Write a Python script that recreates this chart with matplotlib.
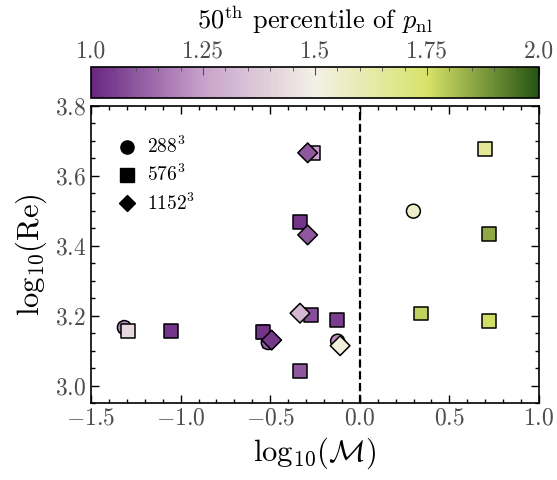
import numpy as np
import matplotlib
matplotlib.use("Agg")
import matplotlib.pyplot as plt
from matplotlib.colors import LinearSegmentedColormap, Normalize
from matplotlib.ticker import MultipleLocator
from matplotlib.lines import Line2D

plt.rcParams["font.family"] = "serif"
plt.rcParams["font.serif"] = ["cmr10"]
plt.rcParams["mathtext.fontset"] = "cm"
plt.rcParams["axes.formatter.use_mathtext"] = True

# log10(Mach), log10(Re), 50th percentile of p_nl, error on log10(Re)
mach_288 = [-1.314, -0.511, -0.124, 0.299]
re_288 = [3.166, 3.123, 3.127, 3.499]
pnl_288 = [1.20, 1.12, 1.20, 1.56]
err_288 = [0.012, 0.015, 0.010, 0.006]

mach_576 = [-1.294, -1.055, -0.538, -0.274, -0.334, -0.129, -0.334, -0.260, 0.340, 0.721, 0.723, 0.697]
re_576 = [3.155, 3.156, 3.152, 3.202, 3.042, 3.188, 3.469, 3.665, 3.206, 3.185, 3.434, 3.677]
pnl_576 = [1.42, 1.03, 1.03, 1.08, 1.10, 1.05, 1.03, 1.25, 1.78, 1.76, 1.85, 1.66]
err_576 = [0.008, 0.010, 0.020, 0.008, 0.010, 0.012, 0.008, 0.010, 0.010, 0.015, 0.015, 0.012]

mach_1152 = [-0.492, -0.334, -0.291, -0.291, -0.110]
re_1152 = [3.130, 3.207, 3.431, 3.666, 3.114]
pnl_1152 = [1.04, 1.32, 1.10, 1.10, 1.52]
err_1152 = [0.010, 0.008, 0.008, 0.008, 0.008]

res_labels = [r"$288^3$", r"$576^3$", r"$1152^3$"]

cmap = LinearSegmentedColormap.from_list(
    "pnl", [(0.0, "#682681"), (0.25, "#c8a2cb"), (0.5, "#f3f1e7"),
            (0.75, "#d8e36a"), (1.0, "#265413")])
norm = Normalize(vmin=1.0, vmax=2.0)

fig = plt.figure(figsize=(5.57, 4.8), dpi=100)
ax = fig.add_axes([0.1634, 0.1604, 0.8043, 0.6188])
cax = fig.add_axes([0.1634, 0.7958, 0.8043, 0.0646])

groups = [
    (mach_288, re_288, pnl_288, err_288, "o"),
    (mach_576, re_576, pnl_576, err_576, "s"),
    (mach_1152, re_1152, pnl_1152, err_1152, "D"),
]
for z, (mx, rx, px, ex, mk) in enumerate(groups):
    for xi, yi, pi, ei in zip(mx, rx, px, ex):
        c = cmap(norm(pi))
        ax.errorbar(xi, yi, yerr=ei, fmt="none", ecolor=c, elinewidth=1.2,
                    capsize=4, capthick=1.2, zorder=2 + 2 * z)
    ax.scatter(mx, rx, c=px, cmap=cmap, norm=norm, marker=mk, s=100,
               edgecolors="black", linewidths=1.1, zorder=3 + 2 * z)

ax.axvline(0.0, color="black", ls="--", lw=1.6, zorder=1)

ax.set_xlim(-1.5, 1.0)
ax.set_ylim(2.95, 3.8)
ax.xaxis.set_major_locator(MultipleLocator(0.5))
ax.xaxis.set_minor_locator(MultipleLocator(0.1))
ax.yaxis.set_major_locator(MultipleLocator(0.2))
ax.yaxis.set_minor_locator(MultipleLocator(0.05))
ax.tick_params(which="both", direction="in", top=True, right=True,
               labelsize=17, labelcolor="0.3", width=1.0)
ax.tick_params(which="major", length=5.5)
ax.tick_params(which="minor", length=2.7)
for sp in ax.spines.values():
    sp.set_linewidth(1.2)

ax.set_xlabel(r"$\mathrm{log}_{10}(\mathcal{M})$", fontsize=22)
ax.set_ylabel(r"$\mathrm{log}_{10}(\mathrm{Re})$", fontsize=22)

handles = [Line2D([], [], marker=m, color="black", ls="none", markersize=ms)
           for m, ms in zip(["o", "s", "D"], [9.5, 9.5, 8.5])]
ax.legend(handles, res_labels, loc="upper left", frameon=False, fontsize=14,
          handletextpad=0.2, borderpad=0.9, labelspacing=0.35,
          handlelength=1.6, bbox_to_anchor=(-0.015, 0.99))

sm = plt.cm.ScalarMappable(cmap=cmap, norm=norm)
cb = fig.colorbar(sm, cax=cax, orientation="horizontal")
cb.ax.xaxis.set_ticks_position("top")
cb.ax.xaxis.set_label_position("top")
cb.set_ticks([1.0, 1.25, 1.5, 1.75, 2.0])
cb.set_ticklabels(["1.0", "1.25", "1.5", "1.75", "2.0"])
cb.ax.xaxis.set_minor_locator(MultipleLocator(0.05))
cb.ax.tick_params(which="both", direction="in", labelsize=17, labelcolor="0.3",
                  color="0.3")
cb.ax.tick_params(which="major", length=5.5)
cb.ax.tick_params(which="minor", length=2.7)
cb.outline.set_linewidth(1.2)
cb.set_label(r"$50^{\rm th}$ percentile of $p_{\rm nl}$", fontsize=19, labelpad=8)

fig.savefig("out.png", dpi=100)
